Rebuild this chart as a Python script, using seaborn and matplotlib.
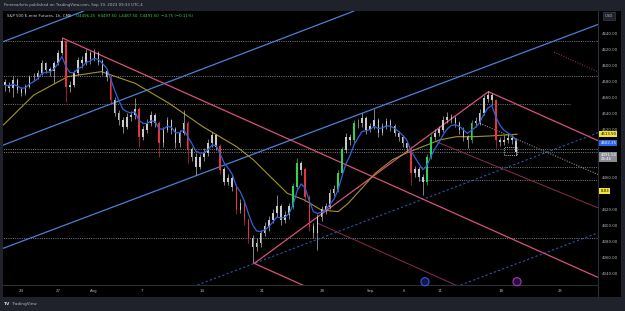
import numpy as np
import pandas as pd
import matplotlib
matplotlib.use("Agg")
import matplotlib.pyplot as plt
from matplotlib.transforms import blended_transform_factory
import seaborn as sns

# ES (S&P 500 E-mini), about 1/3 trading day per bar
first_open = 4578.0
closes = [
    4575, 4571, 4581, 4569, 4565, 4573, 4585, 4585, 4590, 4602,
    4594, 4592, 4602, 4615, 4629, 4573, 4575, 4590, 4606, 4602,
    4615, 4608, 4615, 4604, 4592, 4585, 4556, 4540, 4531, 4523,
    4535, 4537, 4544, 4510, 4519, 4527, 4537, 4527, 4502, 4519,
    4531, 4519, 4502, 4515, 4527, 4494, 4485, 4473, 4485, 4490,
    4502, 4512, 4498, 4469, 4454, 4458, 4448, 4419, 4427, 4406,
    4383, 4373, 4377, 4390, 4398, 4406, 4415, 4423, 4406, 4412,
    4423, 4448, 4477, 4469, 4435, 4398, 4390, 4410, 4419, 4423,
    4440, 4444, 4465, 4494, 4510, 4506, 4527, 4527, 4533, 4519,
    4523, 4531, 4515, 4523, 4529, 4523, 4515, 4510, 4502, 4496,
    4465, 4469, 4460, 4454, 4485, 4510, 4515, 4519, 4531, 4535,
    4533, 4527, 4519, 4510, 4506, 4527, 4529, 4540, 4558, 4562,
    4556, 4506, 4504, 4506, 4508, 4506, 4491.5,
]
highs = [
    4582, 4579, 4586, 4584, 4572, 4576, 4588, 4590, 4594, 4606,
    4604, 4598, 4605, 4619, 4634, 4631, 4580, 4594, 4610, 4611,
    4620, 4617, 4620, 4617, 4607, 4595, 4588, 4560, 4544, 4535,
    4540, 4542, 4559, 4547, 4524, 4532, 4542, 4540, 4530, 4523,
    4535, 4533, 4522, 4519, 4544, 4530, 4498, 4490, 4489, 4496,
    4508, 4516, 4514, 4501, 4472, 4464, 4462, 4451, 4432, 4430,
    4409, 4388, 4384, 4394, 4404, 4411, 4420, 4437, 4426, 4417,
    4428, 4452, 4484, 4480, 4472, 4438, 4402, 4414, 4424, 4428,
    4445, 4450, 4469, 4498, 4515, 4514, 4531, 4533, 4540, 4536,
    4528, 4545, 4534, 4527, 4534, 4532, 4526, 4518, 4513, 4505,
    4499, 4474, 4473, 4464, 4489, 4514, 4520, 4524, 4536, 4541,
    4539, 4536, 4530, 4522, 4513, 4531, 4535, 4545, 4562, 4567,
    4565, 4558, 4510, 4512, 4514, 4512, 4509,
]
lows = [
    4568, 4566, 4560, 4565, 4561, 4562, 4571, 4580, 4582, 4588,
    4590, 4586, 4578, 4600, 4612, 4554, 4566, 4572, 4588, 4596,
    4600, 4601, 4605, 4600, 4588, 4580, 4552, 4536, 4525, 4515,
    4520, 4530, 4533, 4497, 4506, 4515, 4524, 4522, 4485, 4498,
    4516, 4514, 4496, 4498, 4512, 4478, 4480, 4462, 4470, 4480,
    4486, 4498, 4494, 4464, 4450, 4450, 4442, 4414, 4415, 4400,
    4378, 4352, 4368, 4372, 4386, 4393, 4402, 4410, 4400, 4402,
    4408, 4420, 4445, 4462, 4430, 4392, 4384, 4369, 4405, 4414,
    4420, 4436, 4441, 4462, 4490, 4500, 4503, 4521, 4523, 4514,
    4516, 4520, 4510, 4512, 4520, 4518, 4511, 4505, 4498, 4492,
    4450, 4460, 4455, 4437, 4450, 4482, 4506, 4511, 4516, 4528,
    4528, 4522, 4514, 4505, 4496, 4503, 4523, 4525, 4537, 4554,
    4550, 4496, 4499, 4500, 4503, 4501, 4487.5,
]

# slow moving average (olive line), read at sparse points
sma_t = [-1.39, 1.15, 3.97, 6.78, 9.60, 12.42, 15.24, 18.05, 19.46, 20.87,
         22.28, 23.69, 25.10, 26.51, 27.35, 28.48, 29.60, 31.01, 32.14, 33.55,
         34.96, 36.37, 37.78, 39.18, 41.44]
sma_v = [4525.0, 4562.5, 4585.4, 4591.7, 4577.1, 4552.1, 4522.9, 4497.9, 4481.3, 4460.4,
         4439.6, 4431.3, 4418.8, 4416.7, 4427.1, 4445.8, 4464.6, 4481.3, 4489.6, 4497.9,
         4506.3, 4510.4, 4510.4, 4511.3, 4513.5]

# time axis: trading days since Jul 24
tick_pos = [0.06, 3.15, 6.14, 10.13, 15.17, 20.17, 25.17, 29.17, 32.0, 35.0, 40.05, 45.03]
tick_labels = ["24", "27", "Aug", "7", "14", "21", "28", "Sep", "6", "11", "18", "25"]
# price scale labels that are not hidden under the tags
ytick_vals = [4340, 4360, 4380, 4400, 4420, 4460, 4520, 4540, 4560, 4580, 4600, 4620, 4640]

# drawings: (t, price) anchors
blue_channel = [((-1.38, 4629.3), (23.0, 4768.3)),
                ((-1.38, 4500.0), (23.69, 4643.7)),
                ((-1.38, 4371.0), (42.5, 4618.7))]
blue_dotted = [((19.52, 4352.0), (42.5, 4483.0)),
               ((40.0, 4343.7), (46.0, 4377.9))]
pink_rays = [((3.54, 4633.7), (42.5, 4372.5)),
             ((19.52, 4352.0), (25.0, 4315.2)),
             ((39.04, 4566.7), (46.0, 4520.0))]
pink_seg = ((19.52, 4352.0), (39.04, 4566.7))
maroon_rays = [((24.75, 4402.5), (33.0, 4347.1)),
               ((34.68, 4504.2), (42.5, 4456.2))]
gray_ray = ((38.33, 4527.1), (46.67, 4472.9))
red_dotted = ((44.5, 4616.0), (47.08, 4598.7))
levels = [4630.0, 4586.25, 4551.25, 4494.5, 4491.5, 4473.0, 4456.25, 4383.75]
level_from = [-2, -2, -2, -2, -2, 33.25, 33.25, -2]
level_to = [49, 49, 45.83, 49, 49, 49, 49, 49]
box_t = (40.33, 41.44)
box_p = (4487.5, 4497.5)
event_t = [33.75, 41.42]

FRAME = "#1f222a"
TXT = "#b2b5be"
GREEN = "#2fd454"
RED = "#e8333f"
SILVER = "#c9c9c9"

sns.set_theme(style="dark", rc={"axes.facecolor": "black", "figure.facecolor": FRAME})
plt.rcParams["font.family"] = ["DejaVu Sans"]

W, H = 625, 311
fig = plt.figure(figsize=(W / 100, H / 100), dpi=100)
fx = lambda px: px / W
fy = lambda py: 1 - py / H

fig.add_artist(plt.Rectangle((fx(3), fy(297)), fx(621) - fx(3), fy(11) - fy(297),
                             transform=fig.transFigure, facecolor="black",
                             edgecolor="none", zorder=-1))
ax = fig.add_axes([fx(3), fy(285), fx(598) - fx(3), fy(11) - fy(285)])
ax.set_facecolor("black")

# candles
t = np.linspace(-1.24, 41.35, len(closes))
c = np.array(closes, dtype=float)
o = np.r_[first_open, c[:-1]]
hi = np.maximum(highs, np.maximum(o, c))
lo = np.minimum(lows, np.minimum(o, c))
move = c - o
col = np.where(move > 20, GREEN, np.where(move < -20, RED, SILVER))
ax.vlines(t, lo, hi, colors=col, lw=0.45, zorder=4)
ax.bar(t, np.abs(move) + 0.6, bottom=np.minimum(o, c), width=0.13, color=col,
       linewidth=0, zorder=4)

# moving averages
ema = pd.Series(c).ewm(span=5, adjust=False).mean()
sns.lineplot(x=t, y=ema.values, ax=ax, color="#2f62d8", linewidth=0.9, zorder=5)
sns.lineplot(x=np.array(sma_t), y=np.array(sma_v), ax=ax, color="#a69422",
             linewidth=0.8, zorder=3)


def ray(p0, p1, **kw):
    k = (p1[1] - p0[1]) / (p1[0] - p0[0])
    ax.plot([p0[0], 60], [p0[1], p0[1] + k * (60 - p0[0])], **kw)


dots = (0, (1, 1.3))
for a, b in blue_channel:
    ax.axline(a, b, color="#4a80d6", lw=0.9, zorder=2)
for a, b in blue_dotted:
    ax.axline(a, b, color="#2d56a6", lw=0.8, ls=(0, (2, 2)), zorder=2)
for a, b in pink_rays:
    ray(a, b, color="#d9507c", lw=0.9, zorder=2)
ax.plot([pink_seg[0][0], pink_seg[1][0]], [pink_seg[0][1], pink_seg[1][1]],
        color="#d9507c", lw=0.9, zorder=2)
for a, b in maroon_rays:
    ray(a, b, color="#8e2b4f", lw=0.7, zorder=2)
ray(*gray_ray, color="#8a8a8a", lw=0.8, ls=dots, zorder=2)
ray(*red_dotted, color="#8e2b3a", lw=0.8, ls=dots, zorder=2)
for lv, a, b in zip(levels, level_from, level_to):
    ax.hlines(lv, a, b, colors="#7c7e85", lw=0.7, linestyles=[dots], zorder=1)
ax.plot([box_t[0], box_t[1], box_t[1], box_t[0], box_t[0]],
        [box_p[0], box_p[0], box_p[1], box_p[1], box_p[0]],
        color="#dddddd", lw=0.6, ls=dots, zorder=6)

ev = blended_transform_factory(ax.transData, ax.transAxes)
ax.scatter(event_t, [0.012, 0.012], transform=ev, s=34, facecolor=["#0c1a4d", "#2b0f36"],
           edgecolor=["#3558e0", "#9c3cb8"], lw=0.8, clip_on=False, zorder=7)

ax.set_xlim(-1.4167, 48.1667)
ax.set_ylim(4325, 4667.5)
ax.grid(False)
ax.set_xlabel("")
ax.set_ylabel("")
ax.yaxis.tick_right()
ax.set_yticks(ytick_vals)
ax.set_yticklabels([f"{v:.2f}" for v in ytick_vals])
ax.set_xticks(tick_pos)
ax.set_xticklabels(tick_labels)
ax.tick_params(length=0, labelsize=2.8, labelcolor=TXT)
ax.tick_params(axis="y", pad=3)
ax.tick_params(axis="x", pad=3)
for s in ["left", "top"]:
    ax.spines[s].set_visible(False)
for s in ["right", "bottom"]:
    ax.spines[s].set_color("#2a2e39")
    ax.spines[s].set_linewidth(0.8)
fig.add_artist(plt.Line2D([fx(598), fx(598)], [fy(285), fy(297)], color="#2a2e39", lw=0.8))

# price scale tags
tr = blended_transform_factory(ax.transAxes, ax.transData)
tags = [(4513.5, "4513.50", "#f2e33a", "black"),
        (4502.25, "4502.25", "#2e66e8", "white"),
        (4485.0, "4491.50\n26:46", "#8a8d96", "white"),
        (4442.8, "8.03", "#f2e33a", "black")]
for y, s, fc, tc in tags:
    ax.text(1.004, y, s, transform=tr, fontsize=2.8, color=tc, va="center", ha="left",
            linespacing=1.2, bbox=dict(boxstyle="square,pad=0.25", fc=fc, ec="none"),
            clip_on=False, zorder=10)

fig.text(fx(609), fy(16), "USD", fontsize=2.8, color=TXT, ha="center", va="center",
         bbox=dict(boxstyle="square,pad=0.5", fc="#1e222d", ec="#434651", lw=0.4))

# header / legend / footer
fig.text(fx(4), fy(5), "Finnmarkets published on TradingView.com, Sep 19, 2023 09:33 UTC-4",
         fontsize=2.8, color=TXT, va="center")
fig.text(fx(7), fy(16), "S&P 500 E-mini Futures, 1h, CME", fontsize=2.8, color="#d1d4dc",
         va="center")
fig.text(fx(76), fy(16), "O4496.25  H4497.50  L4487.50  C4491.50  \u22124.75 (\u22120.11%)",
         fontsize=2.8, color="#35d05a", va="center")
fig.text(fx(4), fy(304), "TV", fontsize=3.2, weight="bold", color="#d1d4dc", va="center")
fig.text(fx(12), fy(304), "TradingView", fontsize=3.1, color=TXT, va="center")

fig.savefig("out.png", dpi=100, facecolor=FRAME)
